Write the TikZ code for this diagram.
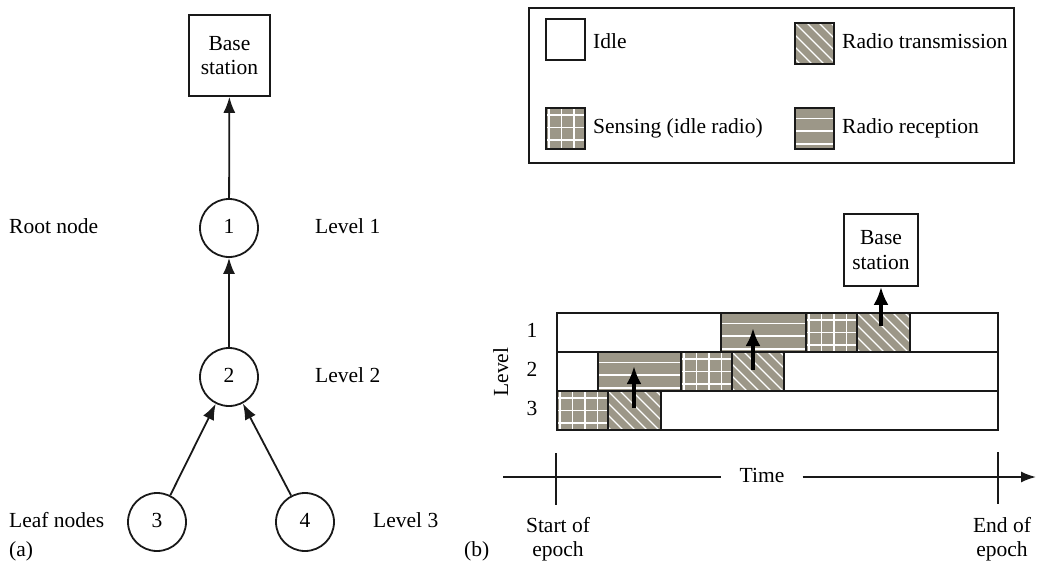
\documentclass[tikz,border=0pt]{standalone}
\usepackage{fontspec}
\setmainfont{Liberation Serif}
\usetikzlibrary{arrows.meta}
\definecolor{patfill}{RGB}{156,151,136}
\definecolor{linec}{RGB}{25,25,25}
\tikzset{
  txt/.style={inner sep=0pt, text height=14pt, text depth=4pt},
  lbl/.style={txt, anchor=west},
  bsbox/.style={draw=linec, line width=1.7pt, align=center, inner sep=0pt},
  nodecirc/.style={circle, draw=linec, line width=1.8pt, minimum size=58pt, inner sep=0pt, txt},
  thinarrow/.style={draw=linec, line width=1.8pt, -{Latex[length=16pt,width=12pt]}},
  thickarrow/.style={draw=black, line width=3.8pt, -{Latex[length=18pt,width=15pt]}},
  plainline/.style={draw=linec, line width=1.7pt},
  cellbase/.style={draw=linec, line width=1.6pt, inner sep=0pt, outer sep=0pt, minimum height=39pt, anchor=north west},
  idlepat/.style={fill=white},
  recvpat/.style={fill=patfill, path picture={
      \foreach \k in {10.5,23.2,35.9}{
        \draw[white,line width=1.6pt] ([yshift=-\k*1pt]path picture bounding box.north west) -- ([yshift=-\k*1pt]path picture bounding box.north east);}}},
  senspat/.style={fill=patfill, path picture={
      \foreach \k in {3,15.5,28,40.5,53}{
        \draw[white,line width=1.6pt] ([xshift=\k*1pt]path picture bounding box.north west) -- ([xshift=\k*1pt]path picture bounding box.south west);}
      \foreach \k in {7,19.5,32,44.5}{
        \draw[white,line width=1.6pt] ([yshift=-\k*1pt]path picture bounding box.north west) -- ([yshift=-\k*1pt]path picture bounding box.north east);}}},
  transpat/.style={fill=patfill, path picture={
      \foreach \k in {-7,...,5}{
        \draw[white,line width=1.4pt] ([xshift=\k*12pt]path picture bounding box.north west) -- ([xshift=\k*12pt+80pt,yshift=-80pt]path picture bounding box.north west);}}},
  legsq/.style={draw=linec, line width=1.6pt, inner sep=0pt, outer sep=0pt, minimum width=39pt, minimum height=41pt, anchor=north west},
}
\newcommand\mkcell[5]{\node[cellbase,#2,minimum width=#4pt-#3pt] (#1) at (#3,#5) {};}
\begin{document}
\begin{tikzpicture}[x=1pt,y=-1pt,font=\fontsize{21.5}{24.5}\selectfont]
\useasboundingbox (0,0) rectangle (1039,562);
\fill[white] (0,0) rectangle (1039,562);

% ---------- (a) tree ----------
\node[bsbox, minimum width=81pt, minimum height=81pt] (bsa) at (229.5,55.5) {Base\\station};
\node[nodecirc] (c1) at (229,228) {1};
\node[nodecirc] (c2) at (229,377) {2};
\node[nodecirc] (c3) at (157,522) {3};
\node[nodecirc] (c4) at (305,522) {4};
\draw[thinarrow] (c1) -- (bsa);
\draw[thinarrow] (c2) -- (c1);
\draw[thinarrow] (c3) -- (c2);
\draw[thinarrow] (c4) -- (c2);

\node[lbl] (rootlbl) at (9,228) {Root node};
\node[lbl] (leaflbl) at (9,522) {Leaf nodes};
\node[lbl] (lev1) at (315,228) {Level 1};
\node[lbl] (lev2) at (315,377) {Level 2};
\node[lbl] (lev3) at (373,522) {Level 3};
\node[lbl] (capa) at (9,551) {(a)};
\node[lbl] (capb) at (464,551) {(b)};

% ---------- legend ----------
\node[draw=linec, line width=1.6pt, minimum width=485pt, minimum height=155pt, inner sep=0pt, anchor=north west] (legend) at (528,7) {};
\node[legsq, idlepat] (lgidle) at (546,19) {};
\node[legsq, transpat] (lgtrans) at (795,23) {};
\node[legsq, senspat] (lgsens) at (546,108) {};
\node[legsq, recvpat] (lgrecv) at (795,108) {};
\node[lbl] (tidle) at (593,43) {Idle};
\node[lbl] (ttrans) at (842,43) {Radio transmission};
\node[lbl] (tsens) at (593,128) {Sensing (idle radio)};
\node[lbl] (trecv) at (842,128) {Radio reception};

% ---------- timing chart ----------
\mkcell{r1a}{idlepat}{557}{721}{313}
\mkcell{r1b}{recvpat}{721}{806}{313}
\mkcell{r1c}{senspat}{806}{857}{313}
\mkcell{r1d}{transpat}{857}{910}{313}
\mkcell{r1e}{idlepat}{910}{998}{313}
\mkcell{r2a}{idlepat}{557}{598}{352}
\mkcell{r2b}{recvpat}{598}{681}{352}
\mkcell{r2c}{senspat}{681}{732}{352}
\mkcell{r2d}{transpat}{732}{784}{352}
\mkcell{r2e}{idlepat}{784}{998}{352}
\mkcell{r3a}{senspat}{557}{608}{391}
\mkcell{r3b}{transpat}{608}{661}{391}
\mkcell{r3c}{idlepat}{661}{998}{391}

\node[txt] (row1) at (532,332) {1};
\node[txt] (row2) at (532,371) {2};
\node[txt] (row3) at (532,410) {3};
\node[txt, rotate=90] (levlbl) at (503,372) {Level};

\node[bsbox, minimum width=74pt, minimum height=72pt] (bsb) at (881,250) {Base\\station};

\coordinate (s3) at (634,408);
\coordinate (e3) at (634,366);
\coordinate (s2) at (753,370);
\coordinate (e2) at (753,328);
\coordinate (s1) at (881,326);
\draw[thickarrow] (s3) -- (e3);
\draw[thickarrow] (s2) -- (e2);
\draw[thickarrow] (s1) -- (bsb.south);

% ---------- time axis ----------
\coordinate (t0) at (503,477);
\coordinate (t1) at (1036,477);
\node[txt, inner xsep=18pt] (time) at (762,477) {Time};
\draw[plainline] (t0) -- (time.west);
\draw[plainline, -{Latex[length=15pt,width=11pt]}] (time.east) -- (t1);
\coordinate (k0a) at (556,453);
\coordinate (k0b) at (556,505);
\coordinate (k1a) at (998,452);
\coordinate (k1b) at (998,504);
\draw[plainline] (k0a) -- (k0b);
\draw[plainline] (k1a) -- (k1b);
\node[align=center, inner sep=0pt] (start) at (558,539) {Start of\\epoch};
\node[align=center, inner sep=0pt] (endep) at (1002,539) {End of\\epoch};
\end{tikzpicture}
\end{document}
